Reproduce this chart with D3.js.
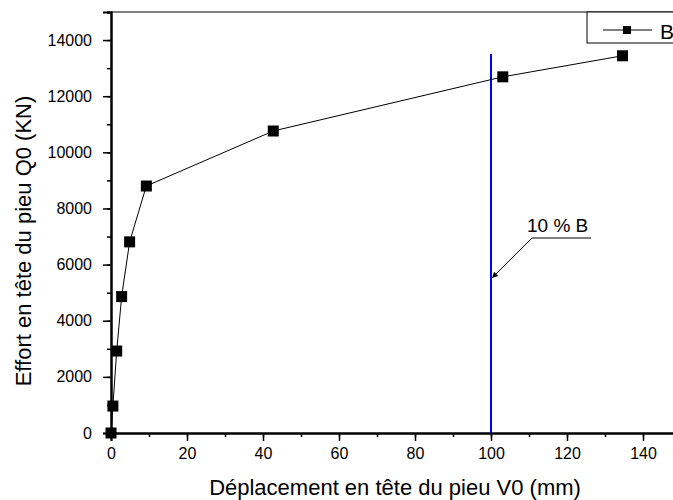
<!DOCTYPE html>
<html>
<head>
<meta charset="utf-8">
<script src="https://d3js.org/d3.v7.min.js"></script>
<style>
  body { margin: 0; background: white; }
  text { font-family: "Liberation Sans", Arial, sans-serif; }
</style>
</head>
<body>
<script>
// data
var deplacement = [0, 0.5, 1.5, 2.8, 4.9, 9.3, 42.7, 103.1, 134.6];
var effort = [0, 960, 2920, 4860, 6810, 8800, 10760, 12690, 13440];
var yTicks = [0, 2000, 4000, 6000, 8000, 10000, 12000, 14000];
var xTicks = [0, 20, 40, 60, 80, 100, 120, 140];
var limite = [100, 13500]; // 10 % B line

var w = 673, h = 500;
var svg = d3.select("body").append("svg").attr("width", w).attr("height", h);

var x = d3.scaleLinear().domain([0, 150]).range([111, 681]);
var y = d3.scaleLinear().domain([0, 15000]).range([433, 12]);

// frame top
svg.append("line").attr("x1", 111).attr("x2", w).attr("y1", 12).attr("y2", 12)
   .attr("stroke", "#000").attr("stroke-width", 1);

function styleAxis(g) {
  g.selectAll("path").attr("stroke-width", 2);
  g.selectAll("line").attr("stroke-width", 1.5);
  g.selectAll("text").attr("font-size", 16).attr("fill", "#000")
   .style("font-family", "Liberation Sans, Arial, sans-serif");
}

var yAxis = svg.append("g").attr("transform", "translate(111,0)");
yAxis.call(d3.axisLeft(y).tickValues(d3.range(0, 15001, 1000)).tickSize(4).tickFormat(""));
yAxis.append("g").call(d3.axisLeft(y).tickValues(yTicks).tickSize(8).tickPadding(11).tickFormat(d3.format("d")));
styleAxis(yAxis);

var xAxis = svg.append("g").attr("transform", "translate(0,433)");
xAxis.call(d3.axisBottom(x).tickValues(d3.range(0, 151, 10)).tickSize(4).tickFormat(""));
xAxis.append("g").call(d3.axisBottom(x).tickValues(xTicks).tickSize(8).tickPadding(7).tickFormat(d3.format("d")));
styleAxis(xAxis);

// axis titles
svg.append("text").attr("x", 395).attr("y", 495).attr("text-anchor", "middle")
   .attr("font-size", 22).text("Déplacement en tête du pieu V0 (mm)");
svg.append("text").attr("transform", "translate(31,241) rotate(-90)")
   .attr("text-anchor", "middle").attr("font-size", 22)
   .text("Effort en tête du pieu Q0 (KN)");

// blue 10% B line
svg.append("line")
   .attr("x1", x(limite[0])).attr("x2", x(limite[0]))
   .attr("y1", y(limite[1])).attr("y2", y(0))
   .attr("stroke", "#0000ff").attr("stroke-width", 2);

// data line + markers
var pts = deplacement.map(function (d, i) { return [d, effort[i]]; });
svg.append("path").datum(pts)
   .attr("d", d3.line().x(function (d) { return x(d[0]); }).y(function (d) { return y(d[1]); }))
   .attr("fill", "none").attr("stroke", "#000").attr("stroke-width", 1);
svg.selectAll("rect.pt").data(pts).enter().append("rect")
   .attr("class", "pt")
   .attr("x", function (d) { return x(d[0]) - 5.5; })
   .attr("y", function (d) { return y(d[1]) - 5.5; })
   .attr("width", 11).attr("height", 11).attr("fill", "#000");

// annotation
svg.append("defs").append("marker").attr("id", "arr")
   .attr("viewBox", "0 0 10 10").attr("refX", 10).attr("refY", 5)
   .attr("markerWidth", 9).attr("markerHeight", 6).attr("orient", "auto")
   .append("path").attr("d", "M0,0L10,5L0,10z").attr("fill", "#000");
svg.append("text").attr("x", 527).attr("y", 232).attr("font-size", 19).text("10 % B");
svg.append("line").attr("x1", 532).attr("x2", 591).attr("y1", 238).attr("y2", 238)
   .attr("stroke", "#000").attr("stroke-width", 1);
svg.append("line").attr("x1", 532).attr("y1", 238).attr("x2", x(100) + 1).attr("y2", 278)
   .attr("stroke", "#000").attr("stroke-width", 1).attr("marker-end", "url(#arr)");

// legend
var lg = svg.append("g");
lg.append("rect").attr("x", 587).attr("y", 12).attr("width", 100).attr("height", 31)
  .attr("fill", "#fff").attr("stroke", "#000").attr("stroke-width", 1);
lg.append("line").attr("x1", 603).attr("x2", 652).attr("y1", 30).attr("y2", 30)
  .attr("stroke", "#000").attr("stroke-width", 1);
lg.append("rect").attr("x", 623).attr("y", 26).attr("width", 8).attr("height", 8).attr("fill", "#000");
lg.append("text").attr("x", 660).attr("y", 39).attr("font-size", 21).text("B");
</script>
</body>
</html>
